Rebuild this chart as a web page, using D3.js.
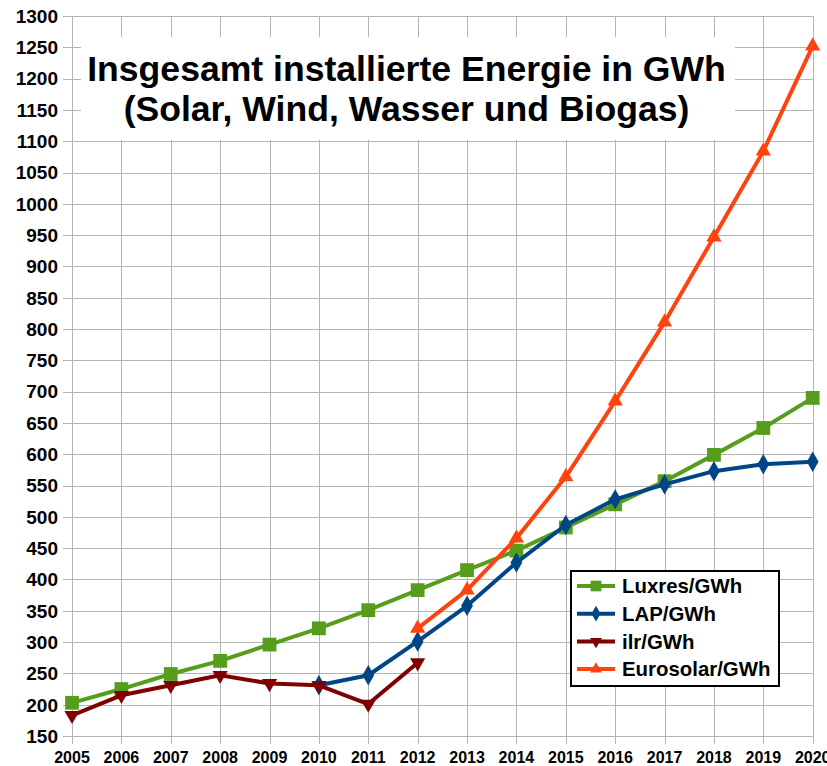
<!DOCTYPE html>
<html>
<head>
<meta charset="utf-8">
<script src="https://cdn.jsdelivr.net/npm/d3@7"></script>
<style>
  body { margin: 0; background: #fff; }
  svg { font-family: "Liberation Sans", Arial, sans-serif; }
</style>
</head>
<body>
<div id="chart"></div>
<script>
// data
const years = [2005, 2006, 2007, 2008, 2009, 2010, 2011, 2012, 2013, 2014, 2015, 2016, 2017, 2018, 2019, 2020];
const luxres = [203, 225, 249, 270, 296, 322, 351, 383, 415, 446, 483, 520, 557, 599, 642, 690];
const lap = [null, null, null, null, null, 231, 247, 301, 358, 427, 487, 528, 552, 573, 584, 588];
const ilr = [183, 215, 231, 247, 234, 231, 201, 267, null, null, null, null, null, null, null, null];
const eurosolar = [null, null, null, null, null, null, null, 322, 383, 466, 564, 685, 811, 947, 1084, 1252];
const yTicks = d3.range(150, 1301, 50);
const titleLines = ['Insgesamt installierte Energie in GWh', '(Solar, Wind, Wasser und Biogas)'];

const series = [
  { name: 'Luxres/GWh', values: luxres, color: '#579d1c', symbol: d3.symbolSquare, size: 190, rot: 0 },
  { name: 'LAP/GWh', values: lap, color: '#004586', symbol: d3.symbolDiamond, size: 120, rot: 0 },
  { name: 'ilr/GWh', values: ilr, color: '#800000', symbol: d3.symbolTriangle, size: 100, rot: 180 },
  { name: 'Eurosolar/GWh', values: eurosolar, color: '#ff420e', symbol: d3.symbolTriangle, size: 100, rot: 0 }
];

const width = 827, height = 766;
const margin = {top: 16, right: 14.3, bottom: 30, left: 72};

const svg = d3.select('#chart').append('svg')
  .attr('width', width)
  .attr('height', height);

const x = d3.scaleLinear()
  .domain([2005, 2020])
  .range([margin.left, width - margin.right]);
const y = d3.scaleLinear()
  .domain([150, 1300])
  .range([height - margin.bottom, margin.top]);

// grid
const grid = svg.append('g').attr('class', 'grid')
  .attr('stroke', '#b3b3b3').attr('stroke-width', 1);
grid.selectAll('.h').data(yTicks).enter().append('line')
  .attr('x1', margin.left - 9).attr('x2', width - margin.right)
  .attr('y1', d => Math.round(y(d)) + 0.5).attr('y2', d => Math.round(y(d)) + 0.5);
grid.selectAll('.v').data(years).enter().append('line')
  .attr('y1', margin.top).attr('y2', height - margin.bottom + 8)
  .attr('x1', d => Math.round(x(d)) + 0.5).attr('x2', d => Math.round(x(d)) + 0.5);

// axes labels
svg.append('g').selectAll('text').data(yTicks).enter().append('text')
  .attr('x', 58).attr('y', d => y(d)).attr('dy', '0.36em')
  .attr('text-anchor', 'end')
  .style('font-size', '19px').style('font-weight', 'bold')
  .text(d => d);
svg.append('g').selectAll('text').data(years).enter().append('text')
  .attr('x', d => x(d)).attr('y', 763)
  .attr('text-anchor', 'middle')
  .style('font-size', '16px').style('font-weight', 'bold')
  .text(d => d);

// title box
svg.append('rect')
  .attr('x', 81).attr('y', 37).attr('width', 654).attr('height', 103)
  .attr('fill', '#fff');
svg.append('g').selectAll('text').data(titleLines).enter().append('text')
  .attr('x', 406.5).attr('y', (d, i) => 81 + i * 40)
  .attr('text-anchor', 'middle')
  .style('font-size', '35.6px').style('font-weight', 'bold')
  .text(d => d);

// lines and markers
const line = d3.line()
  .defined(d => d.v !== null)
  .x(d => x(d.year))
  .y(d => y(d.v));

series.forEach(s => {
  const pts = years.map((yr, i) => ({year: yr, v: s.values[i]}));
  svg.append('path')
    .datum(pts)
    .attr('d', line)
    .attr('fill', 'none')
    .attr('stroke', s.color)
    .attr('stroke-width', 4)
    .attr('stroke-linejoin', 'round');
  svg.append('g').selectAll('path')
    .data(pts.filter(d => d.v !== null))
    .enter().append('path')
    .attr('d', d3.symbol().type(s.symbol).size(s.size))
    .attr('transform', d => 'translate(' + x(d.year) + ',' + y(d.v) + ') rotate(' + s.rot + ')')
    .attr('fill', s.color);
});

// legend
const legend = svg.append('g').attr('class', 'legend');
legend.append('rect')
  .attr('x', 571).attr('y', 571).attr('width', 208).attr('height', 115)
  .attr('fill', '#fff').attr('stroke', '#000').attr('stroke-width', 2);
series.forEach((s, i) => {
  const ly = 586 + i * 27.7;
  legend.append('line')
    .attr('x1', 577).attr('x2', 615).attr('y1', ly).attr('y2', ly)
    .attr('stroke', s.color).attr('stroke-width', 4);
  legend.append('path')
    .attr('d', d3.symbol().type(s.symbol).size(s.size * 0.6))
    .attr('transform', 'translate(596,' + ly + ') rotate(' + s.rot + ')')
    .attr('fill', s.color);
  legend.append('text')
    .attr('x', 622).attr('y', ly).attr('dy', '0.36em')
    .style('font-size', '20.4px').style('font-weight', 'bold')
    .text(s.name);
});
</script>
</body>
</html>
